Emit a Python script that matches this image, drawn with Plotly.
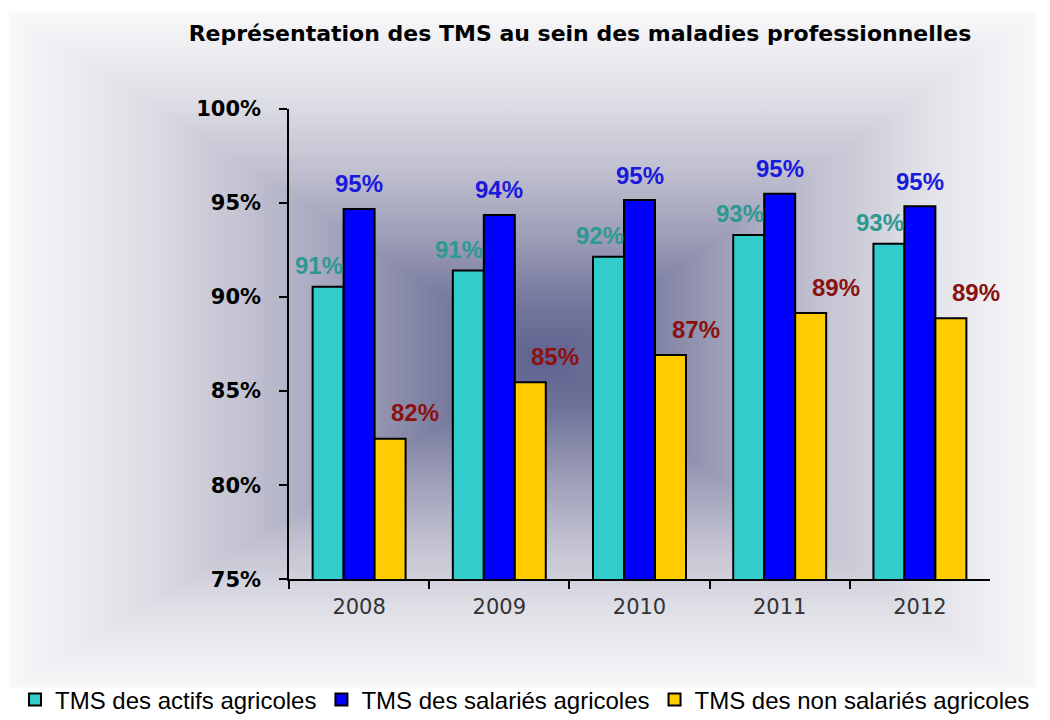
import base64
import plotly.graph_objects as go

# ---- data ----
years = ["2008", "2009", "2010", "2011", "2012"]
actifs = [90.54, 91.40, 92.13, 93.29, 92.82]
salaries = [94.67, 94.35, 95.14, 95.48, 94.81]
non_salaries = [82.46, 85.47, 86.91, 89.14, 88.86]
series_names = ["TMS des actifs agricoles", "TMS des salariés agricoles",
                "TMS des non salariés agricoles"]
title_text = "Représentation des TMS au sein des maladies professionnelles"

# ---- styles ----
W, H, OFF = 1050, 720, 8  # page body margin offset


def px(x):
    return (x - OFF) / W


def py(y):
    return 1 - (y - OFF) / H


bar_colors = ["#33CCCC", "#0000FF", "#FFCC00"]
label_colors = ["#2E9990", "#1A1ADD", "#8B1111"]
label_xshift = [-40, 0, 56]
label_yshift = [21, 25, 26]

# background: rectangular "from centre" gradient as an SVG image
x0, y0, x1, y1 = 10 - OFF, 12 - OFF, 1035 - OFF, 687 - OFF
cx, cy = 545 - OFF, 362 - OFF
stops = [(0.0, "rgb(95,98,142)"), (0.15, "rgb(113,116,154)"),
         (0.35, "rgb(155,156,182)"), (0.55, "rgb(192,192,208)"),
         (0.75, "rgb(222,222,230)"), (1.0, "rgb(248,248,250)")]
stop_xml = "".join(f'<stop offset="{o}" stop-color="{c}"/>' for o, c in stops)
grads = {
    "gt": (cx, cy, cx, y0), "gb": (cx, cy, cx, y1),
    "gl": (cx, cy, x0, cy), "gr": (cx, cy, x1, cy),
}
defs = "".join(
    f'<linearGradient id="{k}" gradientUnits="userSpaceOnUse" x1="{a}" y1="{b}" x2="{c}" y2="{d}">{stop_xml}</linearGradient>'
    for k, (a, b, c, d) in grads.items())
polys = {
    "gt": f"{x0},{y0} {x1},{y0} {cx},{cy}",
    "gb": f"{x0},{y1} {x1},{y1} {cx},{cy}",
    "gl": f"{x0},{y0} {x0},{y1} {cx},{cy}",
    "gr": f"{x1},{y0} {x1},{y1} {cx},{cy}",
}
shapes_xml = "".join(
    f'<polygon points="{p}" fill="url(#{k})" stroke="url(#{k})" stroke-width="1.5"/>'
    for k, p in polys.items())
svg = (f'<svg xmlns="http://www.w3.org/2000/svg" width="{W}" height="{H}" '
       f'viewBox="0 0 {W} {H}" preserveAspectRatio="none"><defs>{defs}</defs>'
       f'<rect x="0" y="0" width="{W}" height="{H}" fill="white"/>{shapes_xml}</svg>')
svg_uri = "data:image/svg+xml;base64," + base64.b64encode(svg.encode()).decode()

fig = go.Figure()
all_series = [actifs, salaries, non_salaries]
for name, vals, col in zip(series_names, all_series, bar_colors):
    fig.add_bar(x=years, y=vals, name=name,
                marker=dict(color=col, line=dict(color="black", width=2)))

annotations = []
for vals, lc, xs, ys in zip(all_series, label_colors, label_xshift, label_yshift):
    for i, v in enumerate(vals):
        annotations.append(dict(
            x=i, y=v, xref="x", yref="y", text=f"{round(v)}%", showarrow=False,
            xshift=xs, yshift=ys, yanchor="middle", xanchor="center",
            font=dict(family="Liberation Sans", size=24, color=lc, weight="bold")))

fig.update_layout(
    width=W, height=H,
    margin=dict(l=0, r=0, t=0, b=0, autoexpand=False),
    paper_bgcolor="white", plot_bgcolor="rgba(0,0,0,0)",
    images=[dict(source=svg_uri, xref="paper", yref="paper", x=0, y=1,
                 sizex=1, sizey=1, sizing="stretch", layer="below",
                 xanchor="left", yanchor="top")],
    title=dict(text=title_text, x=px(580), xanchor="center", y=py(33), yanchor="middle",
               font=dict(family="DejaVu Sans", size=22, color="black", weight="bold")),
    barmode="group", bargap=0.337, bargroupgap=0,
    xaxis=dict(domain=[px(289), px(990)], type="category",
               categoryorder="array", categoryarray=years,
               range=[-0.5, len(years) - 0.5], autorange=False,
               tickson="boundaries", ticks="outside", ticklen=8, tickwidth=1.5,
               tickcolor="black", showline=True, linecolor="black", linewidth=1.5,
               showgrid=False, ticklabelstandoff=8, tickangle=0,
               tickfont=dict(family="DejaVu Sans", size=21, color="#333333")),
    yaxis=dict(domain=[py(579.3), py(108.6)], range=[75, 100], dtick=5,
               ticksuffix="%", ticks="outside", ticklen=8, tickwidth=1.5,
               tickcolor="black", showline=True, linecolor="black", linewidth=1.5,
               showgrid=False, zeroline=False, ticklabelstandoff=14,
               tickfont=dict(family="DejaVu Sans", size=21, color="black", weight="bold")),
    legend=dict(orientation="h", x=px(525), xanchor="center", y=py(700), yanchor="middle",
                font=dict(family="Liberation Sans", size=24, color="black"),
                bgcolor="rgba(0,0,0,0)", itemwidth=30, traceorder="normal"),
    annotations=annotations,
    showlegend=True,
)

fig.write_html("out.html")
